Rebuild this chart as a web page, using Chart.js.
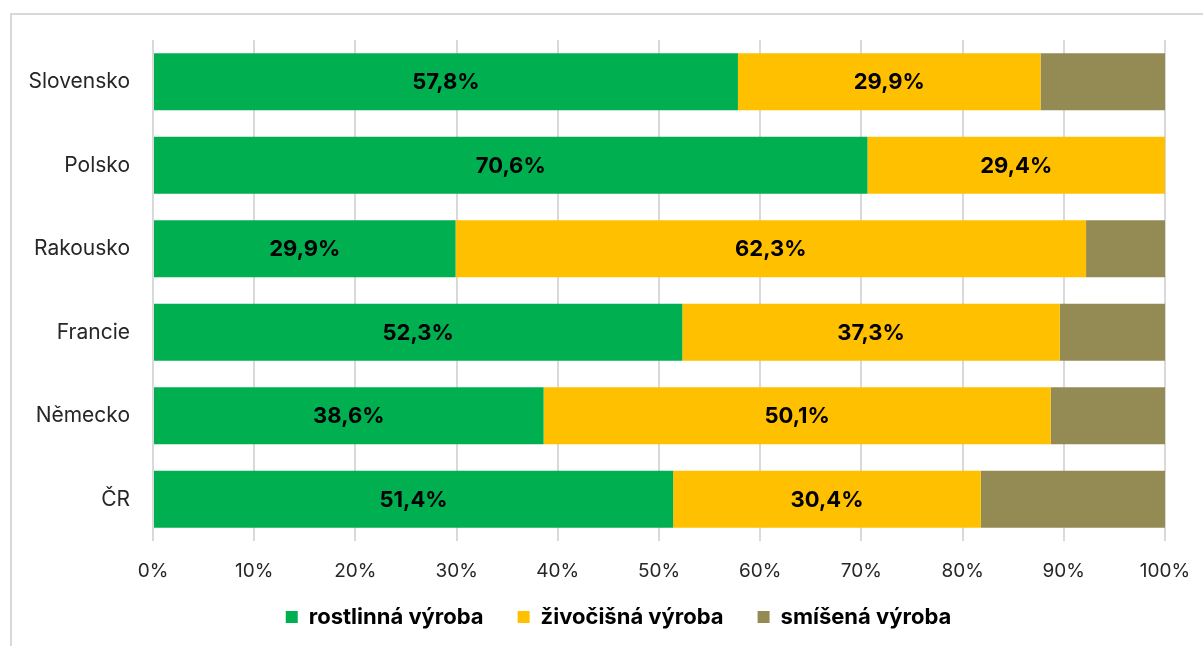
<!DOCTYPE html>
<html>
<head>
<meta charset="utf-8">
<script src="https://cdn.jsdelivr.net/npm/chart.js@4"></script>
<style>
  html, body { margin:0; padding:0; background:#fff; overflow:hidden; }
  .frame {
    position:absolute; left:10px; top:13px; width:1300px; height:700px;
    border:2px solid #d9d9d9; box-sizing:border-box;
  }
  .wrap { position:absolute; left:0; top:0; width:1203px; height:646px; }
</style>
</head>
<body>
<div class="frame"></div>
<div class="wrap"><canvas id="barChart" width="1203" height="646"></canvas></div>
<script>
// DATA

const countries = ['Slovensko','Polsko','Rakousko','Francie','Německo','ČR'];

const rostlinna = [57.8, 70.6, 29.9, 52.3, 38.6, 51.4];
const zivocisna = [29.9, 29.4, 62.3, 37.3, 50.1, 30.4];
const smisena   = [12.3,  0.3,  7.8, 10.4, 11.3, 18.2];

const seriesNames = ['rostlinná výroba','živočišná výroba','smíšená výroba'];

const xTicks = [0,10,20,30,40,50,60,70,80,90,100];


// DATA LABELS (only first two series)

const barLabels = {
  id:'barLabels',
  afterDatasetsDraw(chart){
    const ctx = chart.ctx;
    ctx.save();
    ctx.font = 'bold 22px Inter';
    ctx.fillStyle = '#000';
    ctx.textAlign = 'center';
    ctx.textBaseline = 'middle';
    [0,1].forEach(di => {
      const meta = chart.getDatasetMeta(di);
      meta.data.forEach((bar, i) => {
        const v = chart.data.datasets[di].data[i];
        const cx = (bar.x + bar.base) / 2;
        ctx.fillText(v.toFixed(1).replace('.', ',') + '%', cx, bar.y + 1);
      });
    });
    ctx.restore();
  }
};

// nudge the legend so it sits where the original one does

const legendShift = {
  id:'legendShift',
  afterLayout(chart){
    const lg = chart.legend;
    lg.left += 26; lg.right += 26;
    lg.top -= 14; lg.bottom -= 14;
  }
};


// BAR CHART

const barCtx = document.getElementById('barChart');

new Chart(barCtx, {

  type:'bar',

  data:{
    labels: countries,
    datasets:[
      { label: seriesNames[0], data: rostlinna, backgroundColor:'#00b050' },
      { label: seriesNames[1], data: zivocisna, backgroundColor:'#ffc000' },
      { label: seriesNames[2], data: smisena,   backgroundColor:'#948a54' }
    ]
  },

  options:{
    indexAxis:'y',
    responsive:false,
    animation:false,
    datasets:{
      bar:{ categoryPercentage:1, barPercentage:0.68, borderWidth:0 }
    },
    layout:{
      padding:{ left:20, right:38, top:40, bottom:-6 }
    },
    plugins:{
      tooltip:{ enabled:false },
      legend:{
        position:'bottom',
        labels:{
          boxWidth:12,
          boxHeight:12,
          padding:34,
          color:'#000',
          font:{ family:'Inter', size:22, weight:'bold' }
        }
      }
    },
    scales:{
      x:{
        stacked:true,
        min:0,
        max:100,
        afterBuildTicks(axis){
          axis.ticks = xTicks.map(v => ({ value:v }));
        },
        afterFit(axis){
          axis.height = 45;
          axis.paddingLeft = 0;
          axis.paddingRight = 0;
        },
        grid:{
          color:'#d9d9d9',
          lineWidth:2,
          drawTicks:false
        },
        border:{ display:false },
        ticks:{
          color:'#262626',
          padding:19,
          maxRotation:0,
          font:{ family:'Inter', size:19 },
          callback: v => v + '%'
        }
      },
      y:{
        stacked:true,
        afterFit(axis){
          axis.width = 133;
        },
        grid:{ display:false, drawTicks:false },
        border:{ display:false },
        ticks:{
          color:'#262626',
          padding:23,
          font:{ family:'Inter', size:21 }
        }
      }
    }
  },

  plugins:[barLabels, legendShift]
});
</script>
</body>
</html>
